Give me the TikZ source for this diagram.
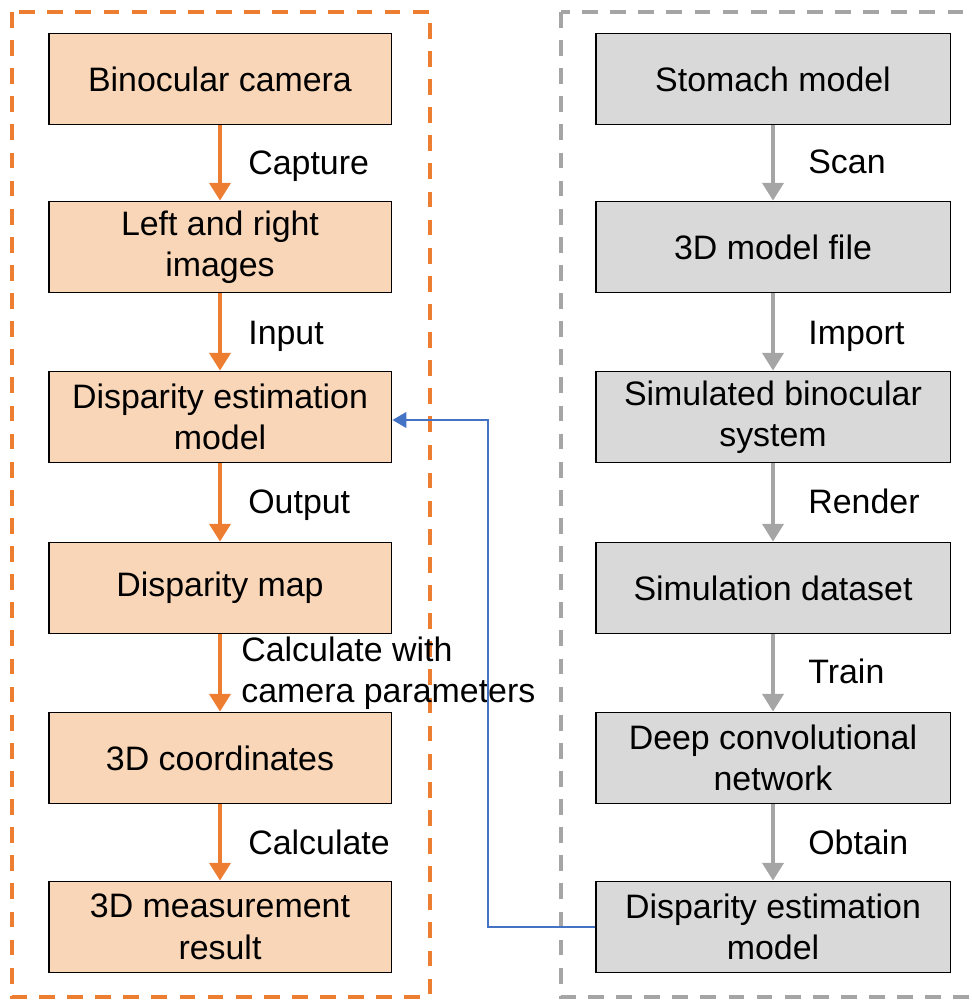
\documentclass[tikz,border=0pt]{standalone}
\usepackage{fontspec}
\setmainfont{Liberation Sans}
\usetikzlibrary{arrows.meta}

\definecolor{peach}{HTML}{F9D6B8}
\definecolor{darkorange}{HTML}{ED7D31}
\definecolor{lightgray}{HTML}{D9D9D9}
\definecolor{midgray}{HTML}{A5A5A5}
\definecolor{linkblue}{HTML}{4472C4}

\tikzset{
  stage/.style={draw=black, line width=1.1pt, minimum height=1.82cm,
    align=center, inner sep=2pt, font=\fontsize{19.3}{23.6}\selectfont},
  sim/.style={stage, fill=lightgray, minimum width=7.1cm},
  real/.style={stage, fill=peach, minimum width=6.86cm},
  edge/.style={font=\fontsize{19.3}{23.6}\selectfont, align=left, anchor=west, inner sep=0pt},
  flow/.style={line width=1.8pt, -{Triangle[width=12pt,length=10pt]}},
  frame/.style={line width=1.8pt, dash pattern=on 9pt off 7pt}
}

\begin{document}
\begin{tikzpicture}[x=0.02cm, y=-0.02cm]
  \useasboundingbox (0,0) rectangle (972,1000);
  \clip (0,0) rectangle (972,1000);

  % Dashed frames around the two pipelines
  \draw[frame, darkorange] (12,12) rectangle (430,997);
  \draw[frame, midgray] (561,12) rectangle (1000,997);

  % Measurement pipeline (left)
  \node[real] (cam) at (220,79) {Binocular camera};
  \node[real] (img) at (220,247) {Left and right\\images};
  \node[real] (dem) at (220,417) {Disparity estimation\\model};
  \node[real] (map) at (220,588) {Disparity map};
  \node[real] (xyz) at (220,758) {3D coordinates};
  \node[real] (res) at (220,927) {3D measurement\\result};

  \draw[flow, darkorange] (cam) -- (img);
  \draw[flow, darkorange] (img) -- (dem);
  \draw[flow, darkorange] (dem) -- (map);
  \draw[flow, darkorange] (map) -- (xyz);
  \draw[flow, darkorange] (xyz) -- (res);

  \node[edge] (capture) at (248,166) {Capture};
  \node[edge] (input) at (248,336) {Input};
  \node[edge] (output) at (248,505) {Output};
  \node[edge] (calcwith) at (241,673) {Calculate with\\camera parameters};
  \node[edge] (calc) at (248,842) {Calculate};

  % Training pipeline (right)
  \node[sim] (stomach) at (773,79) {Stomach model};
  \node[sim] (file) at (773,247) {3D model file};
  \node[sim] (bino) at (773,417) {Simulated binocular\\system};
  \node[sim] (data) at (773,588) {Simulation dataset};
  \node[sim] (net) at (773,758) {Deep convolutional\\network};
  \node[sim] (trained) at (773,927) {Disparity estimation\\model};

  \draw[flow, midgray] (stomach) -- (file);
  \draw[flow, midgray] (file) -- (bino);
  \draw[flow, midgray] (bino) -- (data);
  \draw[flow, midgray] (data) -- (net);
  \draw[flow, midgray] (net) -- (trained);

  \node[edge] (scan) at (808,162) {Scan};
  \node[edge] (import) at (808,336) {Import};
  \node[edge] (render) at (808,501) {Render};
  \node[edge] (train) at (808,671) {Train};
  \node[edge] (obtain) at (808,842) {Obtain};

  % Trained model is handed back to the measurement side
  \coordinate (turn) at (488,420);
  \draw[linkblue, line width=1pt, -{Triangle[width=9pt,length=8pt]}]
    (trained.west) -| (turn) -- (dem.east |- turn);
\end{tikzpicture}
\end{document}
